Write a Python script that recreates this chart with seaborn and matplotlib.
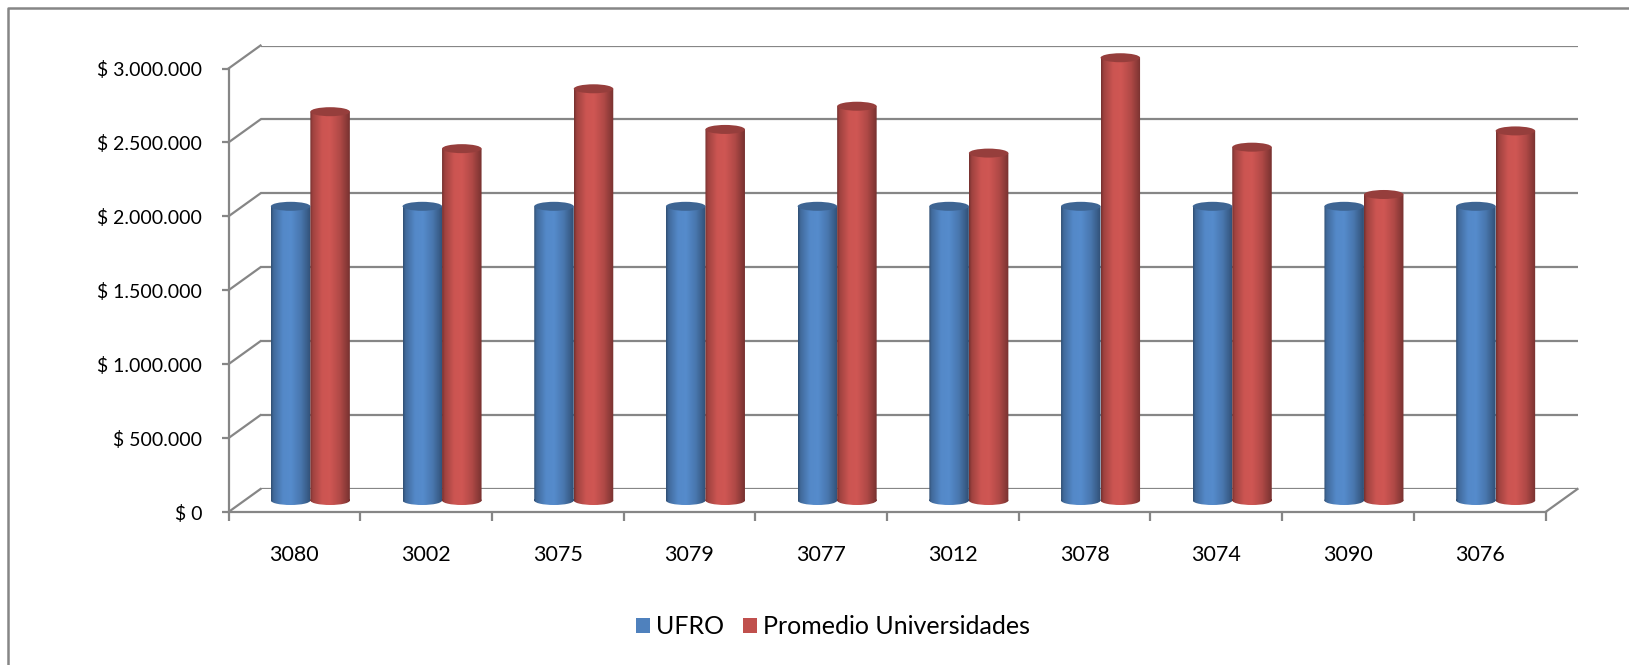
import numpy as np
import pandas as pd
import matplotlib
matplotlib.use("Agg")
import matplotlib.pyplot as plt
import seaborn as sns
from matplotlib.path import Path
from matplotlib.patches import PathPatch, Ellipse, Patch
from matplotlib.transforms import Affine2D
from matplotlib.lines import Line2D
from matplotlib.colors import to_rgb

# ---------------- data ----------------
codes = ['3080', '3002', '3075', '3079', '3077', '3012', '3078', '3074', '3090', '3076']
ufro = [1990000, 1990000, 1990000, 1990000, 1990000, 1990000, 1990000, 1990000, 1990000, 1990000]
promedio = [2630000, 2380000, 2785000, 2510000, 2667000, 2350000, 2995000, 2390000, 2070000, 2500000]
series_names = ['UFRO', 'Promedio Universidades']
ytick_values = [0, 500000, 1000000, 1500000, 2000000, 2500000, 3000000]
ytick_labels = ['$ 0', '$ 500.000', '$ 1.000.000', '$ 1.500.000', '$ 2.000.000', '$ 2.500.000', '$ 3.000.000']
colors = ['#4F81BD', '#C0504D']

# ---------------- style ----------------
plt.rcParams['font.family'] = ['Lato', 'DejaVu Sans']
GRAY = '#868686'
FS_Y = 14
FS_X = 15.5
FS_LEG = 18

W, H = 1629, 665
fig = plt.figure(figsize=(W / 100, H / 100), dpi=100)
fig.patch.set_facecolor('white')

PW, PH = 1317, 443.5          # plot width / height in px
DX, DY = 16, 11.5             # half depth offset in px
MX, MY = 244.5, 500.5         # mid plane: left px, zero line px (from top)

def rect(x_left, y_zero):
    return [x_left / W, (H - y_zero) / H, PW / W, PH / H]

ax_back = fig.add_axes(rect(MX + DX, MY - DY))
ax = fig.add_axes(rect(MX, MY))
ax_front = fig.add_axes(rect(MX - DX, MY + DY))

n = len(codes)
for a in (ax_back, ax, ax_front):
    a.set_facecolor('none')
    a.set_xlim(-0.5, n - 0.5)
    a.set_ylim(0, 3000000)

# back wall gridlines
ax_back.set_xticks([])
ax_back.set_yticks(ytick_values)
ax_back.tick_params(left=False, labelleft=False)
ax_back.yaxis.grid(True, color=GRAY, lw=1.6)
for s in ax_back.spines.values():
    s.set_visible(False)

# ---------------- bars via seaborn ----------------
df = pd.DataFrame({
    'code': codes * 2,
    'value': ufro + promedio,
    'serie': [series_names[0]] * n + [series_names[1]] * n,
})
sns.barplot(data=df, x='code', y='value', hue='serie', order=codes,
            hue_order=series_names, palette=colors, saturation=1,
            width=0.6, legend=False, errorbar=None, ax=ax)
ax.set_xlim(-0.5, n - 0.5)
ax.set_ylim(0, 3000000)
ax.axis('off')

eh = 9 * 3000000 / PH   # ellipse height in data units
t_pts = [0.0, 0.06, 0.30, 0.50, 0.75, 0.92, 1.0]
m_pts = [0.62, 0.82, 1.06, 1.08, 0.92, 0.72, 0.62]
tt = np.linspace(0, 1, 64)
prof = np.interp(tt, t_pts, m_pts)

for p in list(ax.patches):
    x0, w, h = p.get_x(), p.get_width(), p.get_height()
    base = np.array(to_rgb(p.get_facecolor()))
    p.set_facecolor('none')
    p.set_edgecolor('none')
    xc = x0 + w / 2
    body = Path([(x0, 0), (x0 + w, 0), (x0 + w, h), (x0, h), (x0, 0)],
                [Path.MOVETO, Path.LINETO, Path.LINETO, Path.LINETO, Path.CLOSEPOLY])
    ell = Path.unit_circle().transformed(Affine2D().scale(w / 2, eh / 2).translate(xc, 0))
    clip = PathPatch(Path.make_compound_path(body, ell), fc='none', ec='none',
                     transform=ax.transData, clip_on=False)
    ax.add_patch(clip)
    img = np.clip(base[None, None, :] * prof[None, :, None], 0, 1)
    im = ax.imshow(img, extent=[x0, x0 + w, -eh, h], aspect='auto',
                   interpolation='bilinear', zorder=3)
    im.set_clip_path(clip)
    im.set_clip_box(fig.bbox)
    top = np.clip(base * 0.78, 0, 1)
    ax.add_patch(Ellipse((xc, h), w, eh, fc=top, ec='none', zorder=4, clip_on=False))

ax.set_xlim(-0.5, n - 0.5)
ax.set_ylim(0, 3000000)

# ---------------- front axes (ticks, labels) ----------------
ax_front.set_yticks(ytick_values)
ax_front.set_yticklabels(ytick_labels, fontsize=FS_Y)
ax_front.set_xticks(range(n))
ax_front.set_xticklabels(codes, fontsize=FS_X)
ax_front.set_xticks(np.arange(-0.5, n, 1.0), minor=True)
ax_front.tick_params(axis='x', which='major', length=0, pad=24)
ax_front.tick_params(axis='x', which='minor', length=6.5, width=1.6, color=GRAY, direction='out')
ax_front.tick_params(axis='y', which='major', length=5, width=1.6, color=GRAY, direction='out', pad=14)
for side in ('top', 'right'):
    ax_front.spines[side].set_visible(False)
for side in ('left', 'bottom'):
    ax_front.spines[side].set_color(GRAY)
    ax_front.spines[side].set_linewidth(1.6)

# ---------------- 3D diagonals ----------------
inv = fig.transFigure.inverted()
def diag(xv, yv):
    p1 = inv.transform(ax_front.transData.transform((xv, yv)))
    p2 = inv.transform(ax_back.transData.transform((xv, yv)))
    fig.add_artist(Line2D([p1[0], p2[0]], [p1[1], p2[1]], transform=fig.transFigure,
                          color=GRAY, lw=1.6))
for v in ytick_values:
    diag(-0.5, v)
diag(n - 0.5, 0)

# ---------------- legend ----------------
handles = [Patch(facecolor=colors[0]), Patch(facecolor=colors[1])]
fig.legend(handles, series_names, loc='center', bbox_to_anchor=(833 / W, (H - 627) / H),
           ncol=2, frameon=False, fontsize=FS_LEG, handlelength=0.55, handleheight=0.55,
           handletextpad=0.25, columnspacing=0.75)

# ---------------- outer border ----------------
fig.add_artist(Line2D([8 / W, 8 / W, 1.0], [0.0, 1 - 8 / H, 1 - 8 / H],
                      transform=fig.transFigure, color=GRAY, lw=1.8))

fig.savefig('out.png', dpi=100)
